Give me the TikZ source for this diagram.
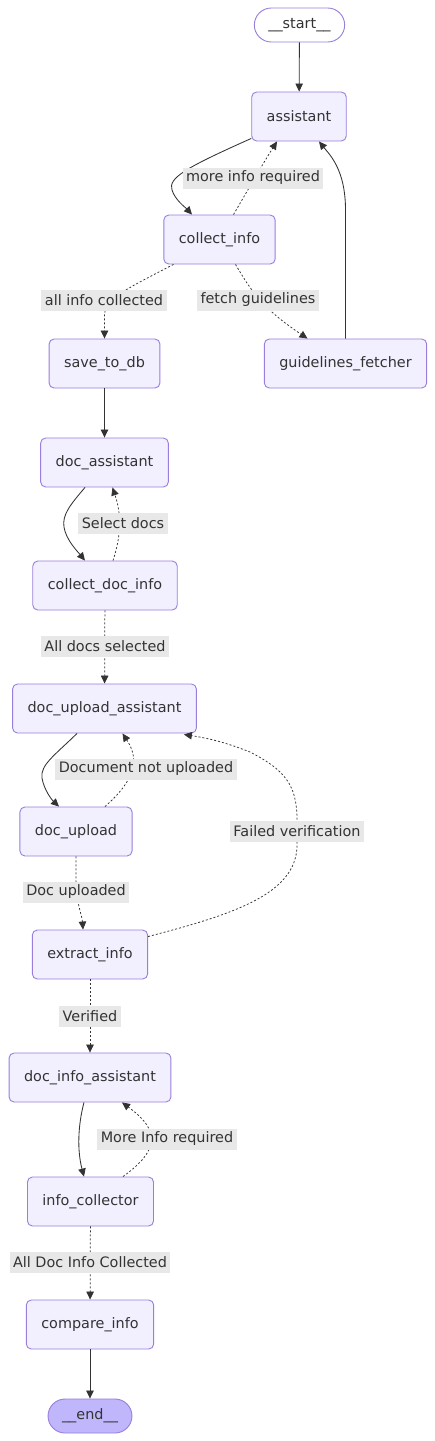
\documentclass[tikz,border=0pt]{standalone}
\usepackage{fontspec}
\setmainfont{DejaVu Sans}
\usetikzlibrary{arrows.meta,calc}
\definecolor{nodefill}{HTML}{F2F0FF}
\definecolor{nodeline}{HTML}{9A7EDB}
\definecolor{endfill}{HTML}{BFB6FC}
\definecolor{edgecol}{HTML}{333333}
\definecolor{lblfill}{HTML}{E8E8E8}
\begin{document}
\begin{tikzpicture}[x=1pt,y=-1pt,
  txt/.style={text=edgecol, font=\fontsize{14.4}{17}\selectfont},
  box/.style={txt, draw=nodeline, fill=nodefill, line width=0.9pt, rounded corners=5pt, minimum height=49pt, inner xsep=15pt},
  term/.style={txt, draw=nodeline, line width=0.9pt, rounded corners=17pt, minimum height=34pt, inner xsep=14pt},
  lbl/.style={txt, fill=lblfill, inner xsep=3.5pt, inner ysep=0pt, minimum height=21pt},
  edge/.style={draw=edgecol, line width=0.85pt, -{Triangle[length=8pt,width=7.5pt]}},
  dotedge/.style={edge, line width=0.75pt, dash pattern=on 2pt off 2pt}
]
\fill[white] (0,0) rectangle (435,1441);
\useasboundingbox (0,0) rectangle (435,1441);

% nodes
\node[term, fill=white] (start) at (299.5,25) {\_\_start\_\_};
\node[box] (assistant) at (299,116.5) {assistant};
\node[box] (collect_info) at (219.5,239.5) {collect\_info};
\node[box] (save_to_db) at (104.5,363.5) {save\_to\_db};
\node[box] (guidelines_fetcher) at (345.5,363.5) {guidelines\_fetcher};
\node[box] (doc_assistant) at (104.5,462.5) {doc\_assistant};
\node[box] (collect_doc_info) at (105,585.5) {collect\_doc\_info};
\node[box] (doc_upload_assistant) at (104.5,708.5) {doc\_upload\_assistant};
\node[box] (doc_upload) at (76,831.5) {doc\_upload};
\node[box] (extract_info) at (90,954.5) {extract\_info};
\node[box] (doc_info_assistant) at (90,1077.5) {doc\_info\_assistant};
\node[box] (info_collector) at (90.5,1201.5) {info\_collector};
\node[box] (compare_info) at (90,1324.5) {compare\_info};
\node[term, fill=endfill] (end) at (90,1416) {\_\_end\_\_};

% edges
\draw[edge] (start) -- (assistant);
\draw[edge] ($(assistant.south west)+(0,-3)$) .. controls (185,168) and (168,178) .. (172,190) .. controls (175,200) and (186,208) .. ($(collect_info.north)+(-27.5,0)$);
\draw[dotedge] ($(collect_info.north)+(14,0)$) .. controls (245,195) and (262,165) .. ($(assistant.south)+(-22,0)$);
\draw[dotedge] ($(collect_info.south)+(-46,0)$) .. controls (120,292) and (104.5,300) .. (104.5,315) -- (save_to_db.north);
\draw[dotedge] ($(collect_info.south)+(16,0)$) .. controls (252,292) and (262,308) .. ($(guidelines_fetcher.north)+(-38,0)$);
\draw[edge] (guidelines_fetcher.north) -- (345.5,210) .. controls (345.5,170) and (330,155) .. ($(assistant.south)+(20,0)$);
\draw[edge] (save_to_db) -- (doc_assistant);
\draw[edge] ($(doc_assistant.south)+(-19.5,0)$) .. controls (70,505) and (62,515) .. (64,527) .. controls (66,540) and (78,552) .. ($(collect_doc_info.north)+(-20,0)$);
\draw[dotedge] ($(collect_doc_info.north)+(8,0)$) .. controls (123,530) and (120,510) .. ($(doc_assistant.south)+(8,0)$);
\draw[dotedge] (collect_doc_info) -- (doc_upload_assistant);
\draw[edge] ($(doc_upload_assistant.south)+(-27.5,0)$) .. controls (55,755) and (40,765) .. (42,778) .. controls (44,790) and (52,800) .. ($(doc_upload.north)+(-17,0)$);
\draw[dotedge] ($(doc_upload.north)+(29,0)$) .. controls (135,780) and (140,760) .. ($(doc_upload_assistant.south)+(18,0)$);
\draw[dotedge] (doc_upload.south) -- (76,885) .. controls (77,905) and (82,915) .. ($(extract_info.north)+(-7,0)$);
\draw[dotedge] ($(extract_info.north east)+(0,7)$) .. controls (230,915) and (297,895) .. (297,845) -- (297,820) .. controls (297,785) and (285,770) .. (250,752) .. controls (220,740) and (200,737) .. ($(doc_upload_assistant.south east)+(-13,1)$);
\draw[dotedge] (extract_info) -- (doc_info_assistant);
\draw[edge] ($(doc_info_assistant.south)+(-6,0)$) .. controls (78,1125) and (77,1150) .. ($(info_collector.north)+(-6.5,0)$);
\draw[dotedge] ($(info_collector.north)+(32.5,0)$) .. controls (160,1150) and (160,1130) .. ($(doc_info_assistant.south)+(32,0)$);
\draw[dotedge] (info_collector) -- (compare_info);
\draw[edge] (compare_info) -- (end);

% labels
\node[lbl] (l1) at (253,178) {more info required};
\node[lbl] (l2) at (104,300) {all info collected};
\node[lbl] (l3) at (258,300) {fetch guidelines};
\node[lbl] (l4) at (123,523) {Select docs};
\node[lbl] (l5) at (105,646) {All docs selected};
\node[lbl] (l6) at (146,769) {Document not uploaded};
\node[lbl] (l7) at (297,831) {Failed verification};
\node[lbl] (l8) at (76,892) {Doc uploaded};
\node[lbl] (l9) at (90,1016) {Verified};
\node[lbl] (l10) at (167,1139) {More Info required};
\node[lbl] (l11) at (90,1262) {All Doc Info Collected};
\end{tikzpicture}
\end{document}
